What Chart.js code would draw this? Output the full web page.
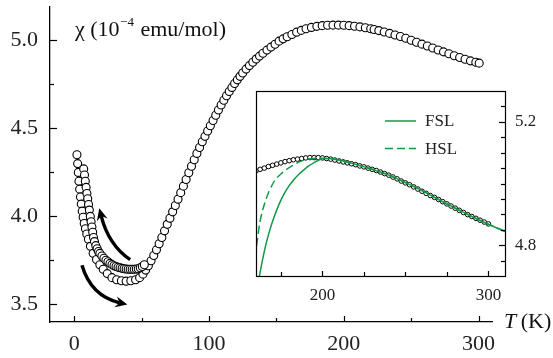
<!DOCTYPE html>
<html>
<head>
<meta charset="utf-8">
<script src="https://cdn.jsdelivr.net/npm/chart.js@4.4.0/dist/chart.umd.min.js"></script>
<style>
  html, body { margin: 0; padding: 0; background: #fff; }
  #wrap { position: relative; width: 553px; height: 358px; overflow: hidden; }
  #mainChart { position: absolute; left: 0; top: 0; }
  #insetChart { position: absolute; left: 250px; top: 85px; }
</style>
</head>
<body>
<div id="wrap">
  <canvas id="mainChart" width="553" height="358"></canvas>
  <canvas id="insetChart" width="303" height="230"></canvas>
</div>
<script>
// main panel: outer (lower) branch, continues up to 300 K
var branchAT = [2.0, 2.5, 3.0, 3.5, 4.0, 4.6, 5.2, 5.9, 6.6, 7.4, 8.3, 9.3, 10.5, 12.0, 14.0, 16.5, 19.0, 21.5, 24.5, 28.0,
  31.5, 35.0, 38.5, 42.0, 45.5, 48.5, 51.0, 53.0, 55.0, 57.0, 59.0, 61.0, 63.0, 65.0, 67.0, 69.0, 71.0, 73.0, 75.0, 77.0,
  79.0, 81.0, 83.0, 85.0, 87.0, 89.0, 91.0, 93.0, 95.0, 97.0, 99.0, 101.0, 103.0, 105.0, 107.0, 109.0, 111.0, 113.0, 115.0, 117.0,
  119.0, 121.0, 123.0, 125.0, 127.5, 130.0, 132.5, 135.0, 137.5, 140.0, 143.0, 146.0, 149.0, 152.0, 155.0, 158.0, 161.5, 165.0, 168.5, 172.0,
  176.0, 180.0, 184.0, 188.0, 192.0, 196.0, 200.0, 204.0, 208.0, 212.0, 216.0, 220.0, 222.5, 226.0, 230.0, 234.0, 238.0, 242.0, 246.0, 250.0,
  254.0, 258.0, 262.0, 266.0, 270.0, 274.0, 278.0, 282.0, 286.0, 290.0, 294.0, 298.0, 300.5];
var branchAChi = [4.35, 4.30, 4.25, 4.20, 4.155, 4.11, 4.07, 4.03, 3.995, 3.96, 3.93, 3.90, 3.87, 3.83, 3.79, 3.755, 3.725, 3.70, 3.675, 3.652,
  3.640, 3.634, 3.632, 3.634, 3.640, 3.652, 3.672, 3.695, 3.72, 3.748, 3.778, 3.81, 3.845, 3.88, 3.918, 3.955, 3.99, 4.026, 4.062, 4.098,
  4.135, 4.172, 4.21, 4.248, 4.285, 4.322, 4.358, 4.392, 4.424, 4.455, 4.485, 4.515, 4.545, 4.575, 4.605, 4.633, 4.66, 4.686, 4.71, 4.733,
  4.755, 4.776, 4.796, 4.815, 4.837, 4.857, 4.876, 4.894, 4.911, 4.927, 4.945, 4.962, 4.978, 4.996, 5.009, 5.021, 5.034, 5.047, 5.057, 5.066,
  5.074, 5.080, 5.084, 5.086, 5.087, 5.087, 5.086, 5.084, 5.081, 5.077, 5.072, 5.066, 5.062, 5.056, 5.048, 5.040, 5.031, 5.022, 5.012, 5.001,
  4.990, 4.979, 4.968, 4.957, 4.946, 4.935, 4.924, 4.913, 4.903, 4.893, 4.884, 4.876, 4.871];

// main panel: inner (upper) branch at low T
var branchBT = [7.0, 7.6, 8.2, 8.8, 9.4, 10.0, 10.6, 11.2, 11.9, 12.5, 13.1, 13.7, 14.3, 15.0, 16.0, 17.0, 18.0, 19.0, 20.5, 22.0,
  23.5, 25.0, 26.5, 28.0, 29.5, 31.0, 32.5, 34.0, 35.5, 37.0, 38.5, 40.0, 41.5, 43.0, 44.5, 46.0, 47.5, 49.0, 50.5, 52.0];
var branchBChi = [4.27, 4.235, 4.20, 4.165, 4.13, 4.10, 4.068, 4.036, 4.00, 3.97, 3.94, 3.91, 3.88, 3.857, 3.834, 3.816, 3.801, 3.79, 3.775, 3.762,
  3.751, 3.742, 3.733, 3.726, 3.72, 3.715, 3.711, 3.708, 3.705, 3.703, 3.701, 3.70, 3.70, 3.70, 3.70, 3.701, 3.703, 3.708, 3.715, 3.725];

// inset: measured points and the two fits
var insetT = [160, 162.5, 165, 167.5, 170, 172.5, 175, 177.5, 180, 182.5, 185, 187.5, 190, 192.5, 195, 197.5, 200, 202.5, 205, 207.5,
  210, 212.5, 215, 217.5, 220, 222.5, 225, 227.5, 230, 232.5, 235, 237.5, 240, 242.5, 245, 247.5, 250, 252.5, 255, 257.5,
  260, 262.5, 265, 267.5, 270, 272.5, 275, 277.5, 280, 282.5, 285, 287.5, 290, 292.5, 295, 297.5, 300];
var insetChi = [5.041, 5.046, 5.050, 5.055, 5.059, 5.063, 5.067, 5.071, 5.074, 5.077, 5.079, 5.081, 5.083, 5.084, 5.084, 5.084, 5.083, 5.081, 5.079, 5.076,
  5.073, 5.070, 5.067, 5.064, 5.061, 5.057, 5.054, 5.050, 5.046, 5.042, 5.037, 5.032, 5.027, 5.021, 5.015, 5.008, 5.002, 4.996, 4.989, 4.982,
  4.975, 4.968, 4.961, 4.955, 4.948, 4.941, 4.934, 4.927, 4.920, 4.913, 4.906, 4.899, 4.893, 4.887, 4.881, 4.875, 4.869];

var fslT = [161.2, 162.1, 165, 168, 171, 174, 177, 180, 183, 186, 189, 192, 195, 198, 201, 205, 210, 220, 230, 240, 250, 260, 270, 280, 290, 300, 312];
var fslChi = [4.67, 4.70, 4.78, 4.843, 4.893, 4.934, 4.967, 4.993, 5.014, 5.031, 5.045, 5.058, 5.068, 5.076, 5.081, 5.080, 5.076, 5.062, 5.046, 5.027, 5.003, 4.977, 4.948, 4.920, 4.893, 4.868, 4.840];
var hslT = [159, 160.2, 162.2, 165.2, 170.2, 176.3, 182.3, 188.3, 194.3, 200, 205, 210, 220, 230, 240, 250, 260, 270, 280, 290, 300, 312];
var hslChi = [4.76, 4.793, 4.870, 4.935, 5.000, 5.037, 5.059, 5.075, 5.081, 5.082, 5.080, 5.076, 5.062, 5.046, 5.027, 5.003, 4.977, 4.948, 4.920, 4.893, 4.868, 4.840];

// axis ticks
var mainXTicks = [0, 50, 100, 150, 200, 250, 300];
var mainXMajor = [0, 100, 200, 300];
var mainYTicks = [3.5, 3.75, 4.0, 4.25, 4.5, 4.75, 5.0];
var mainYMajor = [3.5, 4.0, 4.5, 5.0];
var insetXTicks = [175, 200, 225, 250, 275, 300];
var insetXMajor = [200, 300];
var insetYTicks = [4.75, 4.8, 4.85, 4.9, 4.95, 5.0, 5.05, 5.1, 5.15, 5.2, 5.25];
var insetYMajor = [4.8, 5.2];

// arrows (tail, middle, head) in data units
var arrowUp = [[41.5, 3.754], [27.9, 3.864], [19.3, 4.024]];
var arrowDown = [[5.7, 3.722], [16.8, 3.58], [36.5, 3.504]];

var serif = "'Liberation Serif', 'Times New Roman', serif";
var green = '#119a45';

function pts(xs, ys) {
    return xs.map(function (x, i) { return { x: x, y: ys[i] }; });
}
function isMajor(list, v) {
    return list.some(function (m) { return Math.abs(m - v) < 1e-6; });
}
// kein automatischer Rand durch die Achsenbeschriftungen
function noPad(s) {
    s.paddingTop = 0;
    s.paddingBottom = 0;
    s.paddingLeft = 0;
    s.paddingRight = 0;
}

function drawArrow(ctx, xs, ys, a) {
    var t = { x: xs.getPixelForValue(a[0][0]), y: ys.getPixelForValue(a[0][1]) };
    var m = { x: xs.getPixelForValue(a[1][0]), y: ys.getPixelForValue(a[1][1]) };
    var h = { x: xs.getPixelForValue(a[2][0]), y: ys.getPixelForValue(a[2][1]) };
    var c = { x: 2 * m.x - (t.x + h.x) / 2, y: 2 * m.y - (t.y + h.y) / 2 };
    var ang = Math.atan2(h.y - c.y, h.x - c.x);
    var dx = Math.cos(ang), dy = Math.sin(ang);
    ctx.strokeStyle = '#000';
    ctx.lineWidth = 3.4;
    ctx.lineCap = 'butt';
    ctx.beginPath();
    ctx.moveTo(t.x, t.y);
    ctx.quadraticCurveTo(c.x, c.y, h.x - dx * 4, h.y - dy * 4);
    ctx.stroke();
    // arrow head
    var tip = { x: h.x + dx * 4, y: h.y + dy * 4 };
    var base = { x: h.x - dx * 8, y: h.y - dy * 8 };
    ctx.fillStyle = '#000';
    ctx.beginPath();
    ctx.moveTo(tip.x, tip.y);
    ctx.lineTo(base.x - dy * 5.5, base.y + dx * 5.5);
    ctx.lineTo(h.x - dx * 4, h.y - dy * 4);
    ctx.lineTo(base.x + dy * 5.5, base.y - dx * 5.5);
    ctx.closePath();
    ctx.fill();
}

// Ticks nach innen, Beschriftungen, Pfeile
var mainDecor = {
    id: 'mainDecor',
    afterDraw: function (chart) {
        var ctx = chart.ctx, xs = chart.scales.x, ys = chart.scales.y, area = chart.chartArea;
        ctx.save();
        ctx.strokeStyle = '#000';
        ctx.lineWidth = 1.2;
        mainXTicks.forEach(function (v) {
            var px = Math.round(xs.getPixelForValue(v)) + 0.5;
            var len = isMajor(mainXMajor, v) ? 6 : 4;
            ctx.beginPath();
            ctx.moveTo(px, area.bottom);
            ctx.lineTo(px, area.bottom - len);
            ctx.stroke();
        });
        mainYTicks.forEach(function (v) {
            var py = Math.round(ys.getPixelForValue(v)) + 0.5;
            var len = isMajor(mainYMajor, v) ? 7 : 4;
            ctx.beginPath();
            ctx.moveTo(area.left, py);
            ctx.lineTo(area.left + len, py);
            ctx.stroke();
        });

        // y label inside the plot
        ctx.fillStyle = '#111';
        ctx.textBaseline = 'alphabetic';
        ctx.textAlign = 'left';
        var x = area.left + 25, y = area.top + 29;
        ctx.font = '22px ' + serif;
        var s1 = '\u03c7 (10';
        ctx.fillText(s1, x, y);
        x += ctx.measureText(s1).width + 0.5;
        ctx.font = '13px ' + serif;
        var s2 = '\u22124';
        ctx.fillText(s2, x, y - 10);
        x += ctx.measureText(s2).width + 1;
        ctx.font = '22px ' + serif;
        ctx.fillText(' emu/mol)', x, y);

        // x label at the end of the axis
        x = area.right + 12;
        y = area.bottom + 6;
        ctx.font = 'italic 22px ' + serif;
        ctx.fillText('T', x, y);
        x += ctx.measureText('T').width - 1;
        ctx.font = '22px ' + serif;
        ctx.fillText(' (K)', x, y);

        drawArrow(ctx, xs, ys, arrowUp);
        drawArrow(ctx, xs, ys, arrowDown);
        ctx.restore();
    }
};

var insetDecor = {
    id: 'insetDecor',
    beforeDatasetsDraw: function (chart) {
        var ctx = chart.ctx, a = chart.chartArea;
        ctx.save();
        ctx.fillStyle = '#fff';
        ctx.fillRect(a.left, a.top, a.right - a.left, a.bottom - a.top);
        ctx.restore();
    },
    afterDraw: function (chart) {
        var ctx = chart.ctx, xs = chart.scales.x, ys = chart.scales.y, a = chart.chartArea;
        ctx.save();
        ctx.strokeStyle = '#000';
        ctx.lineWidth = 1.2;
        ctx.strokeRect(Math.round(a.left) + 0.5, Math.round(a.top) + 0.5, Math.round(a.right - a.left), Math.round(a.bottom - a.top));
        insetXTicks.forEach(function (v) {
            var px = Math.round(xs.getPixelForValue(v)) + 0.5;
            var len = isMajor(insetXMajor, v) ? 5 : 4;
            ctx.beginPath();
            ctx.moveTo(px, a.bottom);
            ctx.lineTo(px, a.bottom - len);
            ctx.stroke();
        });
        insetYTicks.forEach(function (v) {
            var py = Math.round(ys.getPixelForValue(v)) + 0.5;
            var len = isMajor(insetYMajor, v) ? 6 : 4;
            ctx.beginPath();
            ctx.moveTo(a.right, py);
            ctx.lineTo(a.right - len, py);
            ctx.stroke();
        });

        // legend
        var lx = a.left + 129, ly = a.top + 30;
        ctx.font = '17px ' + serif;
        ctx.textBaseline = 'middle';
        ctx.textAlign = 'left';
        ctx.fillStyle = '#222';
        chart.data.datasets.slice(0, 2).forEach(function (ds, i) {
            var yy = ly + i * 27.5;
            ctx.strokeStyle = ds.borderColor;
            ctx.lineWidth = 1.5;
            ctx.setLineDash(ds.borderDash || []);
            ctx.beginPath();
            ctx.moveTo(lx, yy);
            ctx.lineTo(lx + 31, yy);
            ctx.stroke();
            ctx.setLineDash([]);
            ctx.fillText(ds.label, lx + 40, yy + 1);
        });
        ctx.restore();
    }
};

new Chart(document.getElementById('mainChart'), {
    type: 'scatter',
    data: {
        datasets: [{
            label: 'branch B',
            data: pts(branchBT, branchBChi),
            pointRadius: 4,
            pointBorderWidth: 1.1,
            pointBorderColor: '#000',
            pointBackgroundColor: '#fff',
            showLine: false
        }, {
            label: 'branch A',
            data: pts(branchAT, branchAChi),
            pointRadius: 4,
            pointBorderWidth: 1.1,
            pointBorderColor: '#000',
            pointBackgroundColor: '#fff',
            showLine: false
        }]
    },
    options: {
        responsive: false,
        animation: false,
        layout: { padding: { left: 0, right: 61, top: 7, bottom: 0 } },
        plugins: { legend: { display: false }, tooltip: { enabled: false } },
        scales: {
            x: {
                type: 'linear',
                min: -18,
                max: 310,
                afterBuildTicks: function (s) { s.ticks = mainXTicks.map(function (v) { return { value: v }; }); },
                afterFit: function (s) { s.height = 36; noPad(s); },
                ticks: {
                    autoSkip: false,
                    maxRotation: 0,
                    padding: 9,
                    color: '#222',
                    font: { family: serif, size: 22 },
                    callback: function (v) { return isMajor(mainXMajor, v) ? String(v) : ''; }
                },
                grid: { display: true, drawOnChartArea: false, drawTicks: false },
                border: { display: true, color: '#000', width: 1.3 }
            },
            y: {
                type: 'linear',
                min: 3.4,
                max: 5.19,
                afterBuildTicks: function (s) { s.ticks = mainYTicks.map(function (v) { return { value: v }; }); },
                afterFit: function (s) { s.width = 50; noPad(s); },
                ticks: {
                    autoSkip: false,
                    padding: 12,
                    color: '#222',
                    font: { family: serif, size: 22 },
                    callback: function (v) { return isMajor(mainYMajor, v) ? v.toFixed(1) : ''; }
                },
                grid: { display: true, drawOnChartArea: false, drawTicks: false },
                border: { display: true, color: '#000', width: 1.3 }
            }
        }
    },
    plugins: [mainDecor]
});

new Chart(document.getElementById('insetChart'), {
    type: 'scatter',
    data: {
        datasets: [{
            label: 'FSL',
            data: pts(fslT, fslChi),
            showLine: true,
            borderColor: green,
            borderWidth: 1.5,
            pointRadius: 0,
            cubicInterpolationMode: 'monotone'
        }, {
            label: 'HSL',
            data: pts(hslT, hslChi),
            showLine: true,
            borderColor: green,
            borderWidth: 1.5,
            borderDash: [8, 4],
            pointRadius: 0,
            cubicInterpolationMode: 'monotone'
        }, {
            label: 'data',
            data: pts(insetT, insetChi),
            pointRadius: 2.3,
            pointBorderWidth: 1,
            pointBorderColor: '#000',
            pointBackgroundColor: '#fff',
            showLine: false
        }]
    },
    options: {
        responsive: false,
        animation: false,
        layout: { padding: { left: 6, right: 0, top: 6, bottom: 0 } },
        plugins: { legend: { display: false }, tooltip: { enabled: false } },
        scales: {
            x: {
                type: 'linear',
                min: 160,
                max: 310,
                afterBuildTicks: function (s) { s.ticks = insetXTicks.map(function (v) { return { value: v }; }); },
                afterFit: function (s) { s.height = 39; noPad(s); },
                ticks: {
                    autoSkip: false,
                    maxRotation: 0,
                    padding: 9,
                    color: '#222',
                    font: { family: serif, size: 17 },
                    callback: function (v) { return isMajor(insetXMajor, v) ? String(v) : ''; }
                },
                grid: { display: false, drawTicks: false },
                border: { display: false }
            },
            y: {
                type: 'linear',
                position: 'right',
                min: 4.7,
                max: 5.3,
                afterBuildTicks: function (s) { s.ticks = insetYTicks.map(function (v) { return { value: v }; }); },
                afterFit: function (s) { s.width = 48; noPad(s); },
                ticks: {
                    autoSkip: false,
                    padding: 10,
                    color: '#222',
                    font: { family: serif, size: 17 },
                    callback: function (v) { return isMajor(insetYMajor, v) ? v.toFixed(1) : ''; }
                },
                grid: { display: false, drawTicks: false },
                border: { display: false }
            }
        }
    },
    plugins: [insetDecor]
});
</script>
</body>
</html>
